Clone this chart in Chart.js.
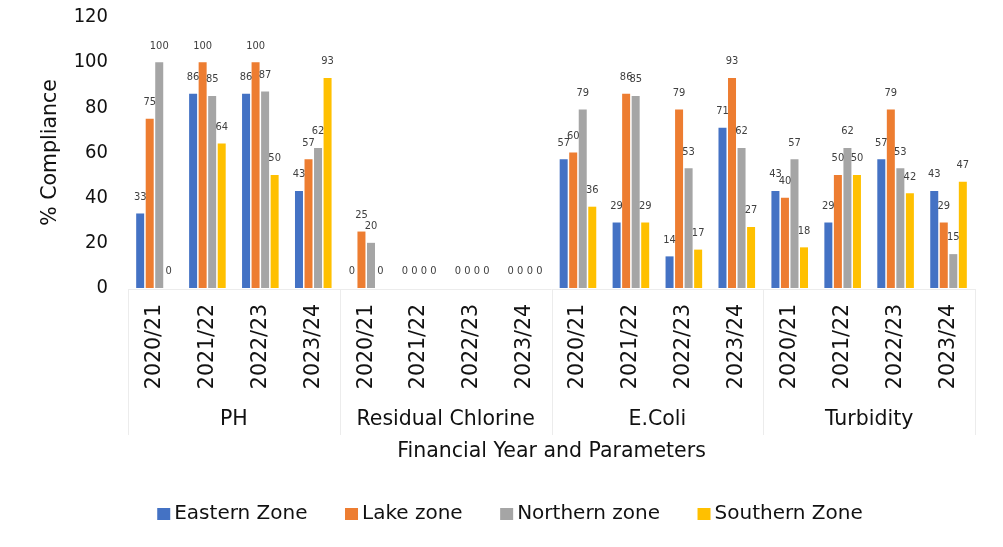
<!DOCTYPE html>
<html>
<head>
<meta charset="utf-8">
<script src="https://cdn.jsdelivr.net/npm/chart.js@4/dist/chart.umd.min.js"></script>
<style>
  html, body { margin: 0; padding: 0; background: #fff; }
  #wrap { width: 1003px; height: 547px; }
</style>
</head>
<body>
<div id="wrap"><canvas id="c" width="1003" height="547"></canvas></div>
<script>
// Financial years shown under each water-quality parameter
const years = ['2020/21', '2021/22', '2022/23', '2023/24'];
const parameters = ['PH', 'Residual Chlorine', 'E.Coli', 'Turbidity'];
const seriesNames = ['Eastern Zone', 'Lake zone', 'Northern zone', 'Southern Zone'];

// % compliance per zone, ordered PH, Residual Chlorine, E.Coli, Turbidity (4 years each)
const easternZone  = [33, 86, 86, 43,   0, 0, 0, 0,   57, 29, 14, 71,   43, 29, 57, 43];
const lakeZone     = [75, 100, 100, 57, 25, 0, 0, 0,  60, 86, 79, 93,   40, 50, 79, 29];
const northernZone = [100, 85, 87, 62,  20, 0, 0, 0,  79, 85, 53, 62,   57, 62, 53, 15];
const southernZone = [0, 64, 50, 93,    0, 0, 0, 0,   36, 29, 17, 27,   18, 50, 42, 47];

const yTicks = [0, 20, 40, 60, 80, 100, 120];
const xTitle = 'Financial Year and Parameters';
const yTitle = '% Compliance';

const colors = ['#4472C4', '#ED7D31', '#A5A5A5', '#FFC000'];
const SANS = '"DejaVu Sans", sans-serif';
const NARROW = '"DejaVu Sans Condensed", "DejaVu Sans", sans-serif';

const labels = parameters.flatMap(() => years);
const seriesValues = [easternZone, lakeZone, northernZone, southernZone];

// value labels above each bar
const valueLabels = {
  id: 'valueLabels',
  afterDatasetsDraw(chart) {
    const ctx = chart.ctx;
    ctx.save();
    ctx.font = '11px ' + NARROW;
    ctx.fillStyle = '#404040';
    ctx.textAlign = 'center';
    ctx.textBaseline = 'bottom';
    chart.data.datasets.forEach((ds, i) => {
      const meta = chart.getDatasetMeta(i);
      meta.data.forEach((el, j) => {
        ctx.fillText(String(ds.data[j]), el.x, el.y - 11);
      });
    });
    ctx.restore();
  }
};

// grouped category axis, axis title and legend
const groupAxis = {
  id: 'groupAxis',
  afterDraw(chart) {
    const ctx = chart.ctx;
    const area = chart.chartArea;
    const x = chart.scales.x;
    const lineBottom = 435;
    ctx.save();
    ctx.strokeStyle = '#ECECEC';
    ctx.lineWidth = 1;
    ctx.beginPath();
    ctx.moveTo(area.left, area.bottom + 1.5);
    ctx.lineTo(area.right, area.bottom + 1.5);
    const bounds = [area.left];
    for (let g = 1; g < parameters.length; g++) {
      bounds.push((x.getPixelForValue(g * years.length - 1) + x.getPixelForValue(g * years.length)) / 2);
    }
    bounds.push(area.right);
    bounds.forEach(b => {
      const px = Math.round(b) + 0.5;
      ctx.moveTo(px, area.bottom + 1);
      ctx.lineTo(px, lineBottom);
    });
    ctx.stroke();

    ctx.fillStyle = '#111';
    ctx.textAlign = 'center';
    ctx.textBaseline = 'middle';
    ctx.font = '20.5px ' + SANS;
    parameters.forEach((p, g) => {
      ctx.fillText(p, (bounds[g] + bounds[g + 1]) / 2, 420);
    });
    ctx.fillText(xTitle, (area.left + area.right) / 2, 452);

    // legend
    ctx.font = '20px ' + SANS;
    const boxW = 13, boxH = 12, gapText = 4, gapItem = 37.5;
    const widths = seriesNames.map(n => ctx.measureText(n).width);
    const total = widths.reduce((a, w) => a + boxW + gapText + w, 0) + gapItem * (seriesNames.length - 1);
    let cx = 510 - total / 2;
    const cy = 514;
    seriesNames.forEach((n, i) => {
      ctx.fillStyle = colors[i];
      ctx.fillRect(cx, cy - boxH / 2, boxW, boxH);
      ctx.fillStyle = '#111';
      ctx.textAlign = 'left';
      ctx.fillText(n, cx + boxW + gapText, cy);
      cx += boxW + gapText + widths[i] + gapItem;
    });
    ctx.restore();
  }
};

new Chart(document.getElementById('c'), {
  type: 'bar',
  data: {
    labels: labels,
    datasets: seriesNames.map((name, i) => ({
      label: name,
      data: seriesValues[i],
      backgroundColor: colors[i],
      borderWidth: 0,
      categoryPercentage: 0.72,
      barPercentage: 0.84
    }))
  },
  options: {
    responsive: false,
    animation: false,
    devicePixelRatio: 1,
    layout: { padding: { left: 0, right: 28, top: 17, bottom: 0 } },
    plugins: {
      legend: { display: false },
      tooltip: { enabled: false }
    },
    scales: {
      x: {
        grid: { display: false },
        border: { display: false },
        ticks: {
          color: '#111',
          font: { family: SANS, size: 20.5 },
          minRotation: 90,
          maxRotation: 90,
          autoSkip: false,
          padding: 8
        },
        afterFit(scale) {
          scale.height = 547 - 288;
          scale.paddingLeft = 0;
          scale.paddingRight = 0;
        }
      },
      y: {
        min: 0,
        max: 120,
        grid: { display: false },
        border: { display: false },
        afterBuildTicks(scale) { scale.ticks = yTicks.map(v => ({ value: v })); },
        ticks: {
          color: '#111',
          font: { family: NARROW, size: 20 },
          padding: 12
        },
        title: {
          display: true,
          text: yTitle,
          color: '#111',
          font: { family: SANS, size: 20.5 },
          padding: { top: 38, bottom: 0 }
        },
        afterFit(scale) {
          scale.width = 128;
          scale.paddingTop = 0;
          scale.paddingBottom = 0;
        }
      }
    }
  },
  plugins: [valueLabels, groupAxis]
});
</script>
</body>
</html>
